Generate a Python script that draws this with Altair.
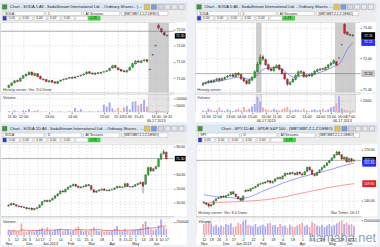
import json
import altair as alt
import pandas as pd

# ---------------- data ----------------
P1_TITLE = "Chart - SODA.1:All - SodaStream International Ltd. - Ordinary Shares - (MBT.MBT.Z,2,Z.DEMO)"
P1_O = [70.72, 70.78, 70.86, 70.93, 70.91, 71.00, 71.07, 71.11, 71.19, 71.09,
        71.14, 71.06, 70.97, 70.96, 70.89, 70.93, 70.89, 70.84, 70.91, 70.95,
        70.97, 71.00, 71.03, 71.01, 71.05, 71.07, 71.10, 71.13, 71.20, 71.16,
        71.12, 71.17, 71.15, 71.19, 71.21, 71.24, 71.31, 71.39, 71.32, 71.27,
        71.23, 71.19, 71.25, 71.34, 71.44, 71.53, 71.48, 71.54, 71.57,
        71.27, 71.72, 72.00, 72.62, 72.52, 72.40, 72.32]
P1_C = [70.78, 70.85, 70.92, 70.90, 71.00, 71.08, 71.12, 71.18, 71.10, 71.15,
        71.05, 70.98, 70.95, 70.90, 70.92, 70.88, 70.85, 70.90, 70.94, 70.97,
        70.99, 71.02, 71.00, 71.04, 71.06, 71.09, 71.13, 71.19, 71.15, 71.13,
        71.16, 71.15, 71.18, 71.20, 71.23, 71.30, 71.38, 71.33, 71.26, 71.22,
        71.20, 71.24, 71.33, 71.45, 71.52, 71.49, 71.53, 71.56, 71.52,
        71.27, 71.72, 72.00, 72.55, 72.42, 72.33, 72.30]
P1_H = [70.81, 70.88, 70.95, 70.96, 71.03, 71.10, 71.15, 71.22, 71.21, 71.17,
        71.16, 71.08, 71.00, 70.98, 70.95, 70.95, 70.91, 70.92, 70.96, 70.99,
        71.01, 71.04, 71.05, 71.06, 71.08, 71.11, 71.15, 71.22, 71.22, 71.18,
        71.18, 71.19, 71.20, 71.22, 71.25, 71.33, 71.41, 71.42, 71.34, 71.29,
        71.25, 71.27, 71.36, 71.48, 71.56, 71.56, 71.56, 71.60, 71.59,
        71.29, 71.74, 72.02, 72.68, 72.55, 72.43, 72.34]
P1_L = [70.69, 70.76, 70.84, 70.87, 70.89, 70.98, 71.05, 71.09, 71.08, 71.07,
        71.03, 70.96, 70.93, 70.88, 70.87, 70.86, 70.83, 70.82, 70.89, 70.93,
        70.95, 70.98, 70.98, 70.99, 71.03, 71.05, 71.08, 71.11, 71.13, 71.11,
        71.10, 71.13, 71.13, 71.17, 71.19, 71.22, 71.29, 71.30, 71.24, 71.20,
        71.18, 71.17, 71.23, 71.31, 71.42, 71.46, 71.46, 71.51, 71.49,
        71.25, 71.70, 71.98, 72.50, 72.40, 72.30, 72.28]
P1_V = [8, 5, 12, 6, 4, 14, 9, 22, 7, 10,
        16, 5, 4, 6, 3, 8, 4, 5, 6, 3,
        4, 7, 5, 30, 9, 24, 6, 5, 8, 7,
        4, 10, 6, 55, 40, 70, 28, 12, 30, 8,
        35, 45, 20, 75, 80, 50, 62, 90, 40,
        6, 4, 9, 14, 8, 6, 4]
P1_XTICKS = [1, 5, 14, 22, 33, 38, 41, 45, 51, 55]
P1_XLABELS = [["11:30", ""], ["12:00", ""], ["13:00", ""], ["14:00", ""], ["15:00", ""],
              ["15:15", ""], ["15:30", ""], ["15:45", ""], ["16:00", "06-17 2013"], ["16:45", ""]]
P1_YTICKS = [71.0, 71.5, 72.0, 72.5]

P2_TITLE = "Chart - SODA.5:All - SodaStream International Ltd. - Ordinary Shares - (MBT.MBT.Z,2,Z.DEMO)"
P2_O = [71.16, 71.20, 71.23, 71.29, 71.26, 71.30, 71.36, 71.31, 71.35, 71.41,
        71.44, 71.48, 71.42, 71.53, 71.49, 71.36, 71.29, 71.20, 71.31, 71.40,
        71.58, 71.83, 72.06, 71.97, 71.81, 71.67, 71.61, 71.71, 71.79, 71.67,
        71.53, 71.34, 71.17, 71.25, 71.33, 71.45, 71.59, 71.57, 71.41, 71.48,
        71.44, 71.51, 71.59, 71.64, 71.68, 71.65, 71.71, 71.79, 71.85,
        71.90, 72.02, 72.45, 73.10, 72.85, 72.78, 72.76]
P2_C = [71.20, 71.24, 71.28, 71.25, 71.31, 71.35, 71.30, 71.36, 71.40, 71.44,
        71.47, 71.43, 71.52, 71.48, 71.35, 71.28, 71.20, 71.32, 71.40, 71.58,
        71.82, 72.05, 71.98, 71.80, 71.66, 71.62, 71.72, 71.78, 71.66, 71.52,
        71.35, 71.18, 71.24, 71.34, 71.46, 71.58, 71.56, 71.42, 71.47, 71.45,
        71.52, 71.60, 71.65, 71.67, 71.66, 71.72, 71.80, 71.86, 71.94,
        71.80, 72.02, 72.45, 72.82, 72.78, 72.75, 72.74]
P2_H = [71.24, 71.27, 71.32, 71.33, 71.34, 71.39, 71.39, 71.40, 71.43, 71.48,
        71.51, 71.52, 71.56, 71.57, 71.52, 71.40, 71.33, 71.36, 71.44, 71.63,
        71.90, 72.14, 72.12, 72.01, 71.85, 71.71, 71.76, 71.82, 71.83, 71.70,
        71.56, 71.37, 71.28, 71.38, 71.50, 71.62, 71.63, 71.60, 71.50, 71.51,
        71.55, 71.63, 71.68, 71.70, 71.71, 71.75, 71.83, 71.90, 71.98,
        71.93, 72.04, 72.47, 73.14, 72.88, 72.80, 72.78]
P2_L = [71.12, 71.17, 71.20, 71.21, 71.23, 71.27, 71.26, 71.28, 71.32, 71.38,
        71.41, 71.40, 71.39, 71.45, 71.31, 71.24, 71.16, 71.17, 71.28, 71.37,
        71.55, 71.79, 71.93, 71.76, 71.62, 71.58, 71.58, 71.68, 71.62, 71.48,
        71.31, 71.12, 71.14, 71.22, 71.30, 71.42, 71.52, 71.38, 71.38, 71.42,
        71.41, 71.48, 71.56, 71.61, 71.63, 71.62, 71.68, 71.76, 71.82,
        71.77, 72.00, 72.43, 72.78, 72.75, 72.72, 72.71]
P2_MA = [71.22, 71.22, 71.23, 71.24, 71.25, 71.27, 71.28, 71.30, 71.32, 71.34,
         71.36, 71.38, 71.40, 71.41, 71.40, 71.38, 71.35, 71.34, 71.35, 71.40,
         71.48, 71.57, 71.65, 71.69, 71.70, 71.70, 71.71, 71.72, 71.70, 71.66,
         71.60, 71.52, 71.45, 71.41, 71.40, 71.42, 71.45, 71.46, 71.47, 71.47,
         71.48, 71.50, 71.53, 71.56, 71.59, 71.62, 71.66, 71.70, 71.75, 71.77,
         71.82, 71.95, 72.12, 72.30, 72.42, 72.52]
P2_V = [3, 2, 6, 4, 2, 3, 8, 3, 2, 5,
        3, 2, 4, 6, 3, 9, 4, 6, 10, 14,
        26, 18, 8, 5, 4, 3, 6, 4, 3, 5,
        7, 9, 4, 3, 5, 4, 3, 6, 3, 2,
        4, 5, 3, 4, 6, 3, 5, 8, 10, 15,
        27, 6, 4, 3, 2, 3]
P2_XTICKS = [1, 5, 10, 14, 18, 23, 27, 32, 38, 43, 47, 51, 54]
P2_XLABELS = [["11:30", ""], ["12:00", ""], ["13:00", ""], ["14:00", ""], ["15:00", ""],
              ["10:00", "06-17 2013"], ["11:00", ""], ["12:00", ""], ["13:00", ""],
              ["14:00", ""], ["15:00", ""], ["16:00", "06-17 2013"], ["17:00", ""]]
P2_YTICKS = [71.0, 72.0, 73.0]

P3_TITLE = "Chart - SODA.1D:All - SodaStream International Ltd. - Ordinary Shares - (MBT.MBT.Z,2,Z.DEMO)"
P3_O = [37.5, 38.0, 39.1, 38.3, 37.4, 37.1, 36.7, 36.3, 35.3, 35.9,
        34.7, 35.6, 36.3, 38.1, 40.6, 41.4, 40.5, 41.6, 42.9, 44.7,
        46.1, 48.1, 47.4, 49.4, 50.9, 51.9, 52.9, 51.6, 50.5, 51.1,
        51.3, 52.6, 51.9, 48.9, 47.2, 48.2, 48.7, 49.6, 48.7, 48.3,
        49.0, 49.3, 50.3, 51.4, 50.6, 51.0, 53.4, 51.2, 50.9, 51.5,
        52.7, 53.3, 54.3, 53.0, 59.6, 64.9, 62.5, 64.1, 65.7, 70.9, 74.8, 75.8]
P3_C = [38.0, 39.2, 38.4, 37.3, 37.0, 36.6, 36.2, 35.4, 35.8, 34.8,
        35.5, 36.2, 38.0, 40.5, 41.3, 40.6, 41.5, 42.8, 44.6, 46.0,
        48.0, 47.5, 49.3, 50.8, 51.8, 52.8, 51.5, 50.6, 51.0, 51.4,
        52.5, 52.0, 49.0, 47.3, 48.1, 48.8, 49.5, 48.6, 48.4, 48.9,
        49.4, 50.2, 51.3, 50.7, 50.9, 53.3, 51.3, 51.0, 51.4, 52.6,
        53.4, 54.2, 51.5, 59.5, 64.8, 62.6, 64.0, 65.6, 70.8, 74.6, 76.2, 71.3]
P3_H = [38.6, 39.7, 39.5, 38.7, 37.9, 37.6, 37.2, 36.7, 36.3, 36.2,
        35.9, 36.8, 38.5, 41.0, 42.0, 41.9, 42.0, 43.3, 45.2, 46.6,
        48.7, 48.9, 49.8, 51.3, 52.4, 53.5, 53.3, 52.0, 51.6, 52.0,
        53.0, 53.1, 52.2, 49.4, 48.6, 49.3, 50.0, 50.0, 49.1, 49.4,
        49.9, 50.7, 51.9, 51.8, 51.4, 53.9, 53.8, 51.7, 51.9, 53.1,
        53.9, 54.8, 54.7, 60.2, 65.6, 65.5, 64.8, 66.4, 71.5, 75.5, 77.8, 76.3]
P3_L = [37.0, 37.7, 38.0, 36.9, 36.5, 36.1, 35.8, 34.9, 35.0, 34.3,
        34.2, 35.2, 36.0, 37.8, 40.1, 40.0, 40.1, 41.2, 42.5, 44.2,
        45.8, 47.0, 47.0, 49.0, 50.4, 51.5, 51.0, 50.1, 50.0, 50.6,
        51.0, 51.5, 48.5, 46.8, 46.9, 47.8, 48.3, 48.1, 47.9, 47.9,
        48.6, 48.9, 49.9, 50.2, 50.2, 50.7, 50.9, 50.5, 50.5, 51.1,
        52.2, 52.9, 46.5, 52.6, 59.0, 61.8, 61.9, 63.6, 65.2, 70.3, 74.0, 70.6]
P3_V = [900, 700, 800, 600, 650, 2200, 700, 600, 800, 700,
        650, 900, 1100, 1300, 800, 1500, 900, 700, 1000, 1100,
        1200, 800, 900, 1000, 700, 800, 1300, 1600, 900, 700,
        800, 700, 1100, 1500, 900, 700, 800, 600, 700, 650,
        800, 1200, 1700, 900, 700, 1100, 800, 700, 900, 1000,
        1100, 1300, 2100, 2600, 1600, 1200, 900, 1100, 1800, 3000, 1500, 1200]
P3_XTICKS = [0, 3, 6, 8, 11, 13, 16, 20, 24, 27, 30, 32, 36, 40, 43, 45, 47, 49, 52, 55, 57, 59, 61]
P3_XLABELS = [["5", "Nov"], ["12", ""], ["26", ""], ["3", "Dec"], ["10", ""], ["17", ""],
              ["2", "Jan 2013"], ["14", ""], ["1", "Feb"], ["11", ""], ["25", ""], ["4", "Mar"],
              ["18", ""], ["1", "Apr"], ["8", ""], ["15", ""], ["22", ""], ["1", "May"],
              ["13", ""], ["28", ""], ["3", "Jun"], ["10", ""], ["17", ""]]
P3_YTICKS = [40, 50, 60, 80]

P4_TITLE = "Chart - SPY.1D:All - SPDR S&P 500 - (MBT.MBT.Z,2,Z.DEMO)"
P4_O = [138.9, 138.5, 137.9, 136.8, 137.6, 139.8, 141.2, 141.6, 142.5, 142.0,
        142.9, 143.5, 145.1, 143.7, 142.2, 141.2, 140.1, 145.2, 146.1, 145.5,
        147.0, 147.5, 148.3, 149.5, 149.9, 150.2, 150.9, 151.5, 150.4, 151.2,
        152.7, 153.5, 152.7, 154.3, 155.8, 155.3, 156.3, 155.9, 155.1, 156.6,
        155.6, 155.1, 157.0, 159.5, 157.8, 155.3, 154.8, 156.4, 157.9, 159.3,
        160.5, 162.1, 163.4, 164.9, 166.8, 168.4, 166.8, 164.2, 165.3, 162.7, 164.5, 163.1]
P4_C = [138.6, 137.8, 136.7, 137.5, 139.6, 141.0, 141.5, 142.4, 142.1, 142.8,
        143.4, 145.0, 143.8, 142.3, 141.0, 140.0, 142.5, 146.0, 145.6, 146.9,
        147.4, 148.2, 149.4, 149.8, 150.3, 150.8, 151.6, 150.5, 151.1, 152.6,
        153.4, 152.8, 154.2, 155.9, 155.4, 156.2, 155.8, 155.2, 156.5, 155.7,
        155.0, 156.8, 159.4, 157.9, 155.4, 154.6, 156.3, 157.8, 159.2, 160.4,
        162.0, 163.3, 164.8, 166.7, 168.3, 166.9, 164.3, 165.2, 162.6, 164.4, 163.0, 163.5]
P4_H = [139.4, 139.0, 138.2, 138.0, 140.1, 141.4, 142.1, 142.9, 143.0, 143.3,
        143.9, 145.4, 145.5, 144.1, 142.6, 141.6, 142.9, 146.4, 146.5, 147.3,
        147.8, 148.6, 149.8, 150.3, 150.8, 151.3, 152.1, 151.9, 151.6, 153.0,
        153.9, 153.9, 154.6, 156.3, 156.3, 156.7, 156.8, 156.3, 156.9, 157.0,
        156.1, 157.3, 159.9, 159.9, 158.2, 155.8, 156.8, 158.2, 159.7, 160.9,
        162.5, 163.8, 165.3, 167.2, 169.1, 169.0, 167.2, 165.8, 165.7, 164.9, 165.0, 164.2]
P4_L = [138.0, 137.2, 135.8, 136.2, 137.3, 139.4, 140.8, 141.1, 141.6, 141.6,
        142.4, 143.2, 143.4, 141.9, 140.5, 139.5, 139.8, 144.8, 145.1, 145.2,
        146.6, 147.1, 148.0, 149.1, 149.4, 149.8, 150.5, 149.8, 149.9, 150.9,
        152.3, 152.2, 152.3, 154.0, 154.9, 154.9, 155.3, 154.6, 154.7, 155.2,
        154.4, 154.8, 156.6, 157.4, 154.8, 153.9, 154.3, 156.0, 157.5, 158.9,
        160.1, 161.7, 163.0, 164.5, 166.3, 166.4, 163.7, 163.8, 162.0, 162.2, 162.4, 162.6]
P4_MA50 = [143.3, 143.1, 142.9, 142.6, 142.4, 142.2, 142.1, 142.0, 141.9, 141.8,
           141.7, 141.6, 141.5, 141.3, 141.1, 141.0, 141.1, 141.4, 141.8, 142.3,
           142.9, 143.5, 144.1, 144.8, 145.4, 146.0, 146.6, 147.2, 147.7, 148.3,
           148.9, 149.5, 150.1, 150.6, 151.1, 151.6, 152.1, 152.5, 153.0, 153.4,
           153.8, 154.2, 154.6, 155.0, 155.4, 155.7, 156.0, 156.3, 156.7, 157.1,
           157.5, 157.9, 158.3, 158.7, 159.2, 159.6, 160.0, 160.4, 160.8, 161.2, 161.5, 161.8]
P4_MA200 = [138.4, 138.5, 138.5, 138.6, 138.6, 138.7, 138.8, 138.8, 138.9, 139.0,
            139.0, 139.1, 139.2, 139.2, 139.3, 139.4, 139.4, 139.5, 139.6, 139.7,
            139.8, 139.9, 140.0, 140.1, 140.3, 140.4, 140.6, 140.8, 141.0, 141.2,
            141.4, 141.7, 141.9, 142.2, 142.5, 142.8, 143.1, 143.4, 143.7, 144.0,
            144.3, 144.6, 144.9, 145.2, 145.5, 145.8, 146.1, 146.4, 146.7, 147.0,
            147.3, 147.6, 147.8, 148.1, 148.3, 148.6, 148.8, 149.0, 149.2, 149.4, 149.6, 149.8]
P4_V = [150, 170, 190, 160, 120, 140, 110, 130, 120, 150,
        140, 160, 110, 120, 170, 150, 190, 210, 140, 130,
        120, 150, 110, 130, 140, 120, 160, 170, 130, 140,
        110, 150, 120, 130, 100, 140, 120, 110, 130, 150,
        170, 120, 140, 110, 180, 160, 130, 120, 140, 110,
        130, 150, 120, 140, 160, 180, 200, 150, 170, 140, 150, 120]
P4_XTICKS = [0, 3, 6, 9, 12, 16, 20, 24, 28, 32, 36, 40, 44, 48, 52, 56, 59, 61]
P4_XLABELS = [["12", "Nov"], ["19", ""], ["26", ""], ["3", "Dec"], ["17", ""], ["2", "Jan 2013"],
              ["22", ""], ["4", "Feb"], ["19", ""], ["4", "Mar"], ["18", ""], ["1", "Apr"],
              ["15", ""], ["29", ""], ["13", "May"], ["28", ""], ["10", "Jun"], ["17", ""]]
P4_YTICKS = [140, 170]

# ---------------- style ----------------
FONT = "Liberation Sans"
UP, DN, WICK = "#1fbf1f", "#dd2020", "#1e1e1e"
VUP, VDN = "#a8a8f4", "#f4a8a8"
GRID = dict(grid=True, gridDash=[1, 2], gridColor="#b8b8b8", gridWidth=0.5)
BOX = "M-1,-0.5L1,-0.5L1,0.5L-1,0.5Z"


def header(W, title, sym, interval, center):
    rects = [dict(x0=0, x1=W, y0=0, y1=7.5, f="#dce7f4", s="#c9d7ea"),
             dict(x0=1.5, x1=6, y0=1.5, y1=6, f="#4c8f3c", s="#2f6b25")]
    for k, col in enumerate(["#e9c44a", "#7c9bd8", "#cfd8e4", "#e8e8e8", "#e8e8e8", "#e8e8e8"]):
        x0 = W - 43 + k * 7
        rects.append(dict(x0=x0, x1=x0 + 5.5, y0=1.2, y1=6.3, f=col, s="#8c8c8c"))
    rects.append(dict(x0=0, x1=W, y0=7.5, y1=18, f="#ececec", s="#ececec"))
    for a, b in [(2, 44), (46, 82), (84, 121), (123, min(170, W - 18))]:
        rects.append(dict(x0=a, x1=b, y0=8.2, y1=12.6, f="white", s="#a3a3a3"))
    rects.append(dict(x0=2, x1=5.5, y0=13.3, y1=17.3, f="#2a3fd0", s="#2a3fd0"))
    for a in [6, 20, 34, 48, 62, 76]:
        rects.append(dict(x0=a, x1=a + 12.5, y0=13.3, y1=17.3, f="white", s="#a3a3a3"))
    rects.append(dict(x0=89, x1=101, y0=13.3, y1=17.3, f="#33e033", s="#22aa22"))
    texts = [dict(x=4, y=10.5, t=sym), dict(x=48, y=10.5, t=interval),
             dict(x=86, y=10.5, t="All Sessions"), dict(x=125, y=10.5, t="(MBT.MBT.Z,2,Z.DEMO)"),
             dict(x=8, y=15.4, t="0.00"), dict(x=22, y=15.4, t="0.00"), dict(x=36, y=15.4, t="0.00"),
             dict(x=50, y=15.4, t="0.00"), dict(x=64, y=15.4, t="0.00"), dict(x=91, y=15.4, t="1.73")]
    r = alt.Chart(pd.DataFrame(rects)).mark_rect(strokeWidth=0.4).encode(
        x=alt.X("x0:Q", scale=None, axis=None), x2="x1:Q",
        y=alt.Y("y0:Q", scale=None, axis=None), y2="y1:Q",
        color=alt.Color("f:N", scale=None), stroke=alt.Stroke("s:N", scale=None))
    t = alt.Chart(pd.DataFrame(texts)).mark_text(font=FONT, fontSize=3.3, align="left",
                                                 baseline="middle", color="#222").encode(
        x=alt.X("x:Q", scale=None, axis=None), y=alt.Y("y:Q", scale=None, axis=None), text="t:N")
    tt = alt.Chart(pd.DataFrame({"t": [title]})).mark_text(
        font=FONT, fontSize=4.1, align="center" if center else "left", baseline="middle",
        color="#1a1a1a", limit=W - 52).encode(
        x=alt.value(W / 2 - 10 if center else 9), y=alt.value(4), text="t:N")
    return alt.layer(r, t, tt).properties(width=W, height=18,
                                          view=alt.ViewBackground(stroke="transparent"))


def price_chart(df, W, H, AX, ydom, yticks, xdom, xticks, bands, refs, boxes, lines, notes, bw):
    xs = alt.Scale(domain=xdom, nice=False, zero=False)
    ys = alt.Scale(domain=ydom, nice=False, zero=False)
    xax = alt.Axis(values=xticks, labels=False, ticks=False, domain=False, title=None, zindex=1,
                   maxExtent=0, minExtent=0, **GRID)
    yax = alt.Axis(orient="right", values=yticks, format=".2f", labelFontSize=3.6, labelFont=FONT,
                   labelColor="#222", tickSize=1.2, tickColor="#777", labelPadding=1, domain=False,
                   title=None, minExtent=AX, maxExtent=AX, zindex=1, **GRID)

    def X(f):
        return alt.X(f, scale=xs, axis=xax)

    def Y(f):
        return alt.Y(f, scale=ys, axis=yax)

    one = pd.DataFrame({"k": [0]})
    layers = [alt.Chart(one).mark_rect(fill="white").encode(
        x=alt.value(0), x2=alt.value(W + AX), y=alt.value(0), y2=alt.value(H))]
    if bands:
        bdf = pd.DataFrame(bands, columns=["b0", "b1"])
        layers.append(alt.Chart(bdf).mark_rect(fill="#cdcdcd").encode(
            x=X("b0:Q"), x2="b1:Q", y=alt.value(0), y2=alt.value(H)))
    if refs:
        layers.append(alt.Chart(pd.DataFrame({"p": refs})).mark_rule(
            color="#7a7a7a", strokeWidth=0.6).encode(y=Y("p:Q")))
    for field, col in lines:
        layers.append(alt.Chart(df).mark_line(color=col, strokeWidth=0.8).encode(
            x=X("i:Q"), y=Y(field + ":Q")))
    layers.append(alt.Chart(df).mark_rule(color=WICK, strokeWidth=0.5).encode(
        x=X("i:Q"), y=Y("l:Q"), y2="h:Q"))
    layers.append(alt.Chart(df).mark_bar(size=bw, stroke=WICK, strokeWidth=0.3).encode(
        x=X("i:Q"), y=Y("o:Q"), y2="c:Q",
        color=alt.condition("datum.c >= datum.o", alt.value(UP), alt.value(DN))))
    if boxes:
        bx = pd.DataFrame(boxes, columns=["p", "f", "tc"])
        bx["lab"] = [f"{p:.2f}" for p in bx["p"]]
        layers.append(alt.Chart(bx).mark_point(shape=BOX, filled=True, size=(AX - 2) ** 2,
                                               opacity=1, strokeWidth=0).encode(
            x=alt.value(W + AX / 2), y=Y("p:Q"), color=alt.Color("f:N", scale=None)))
        layers.append(alt.Chart(bx).mark_text(font=FONT, fontSize=3.5, baseline="middle").encode(
            x=alt.value(W + AX / 2), y=Y("p:Q"), text="lab:N", color=alt.Color("tc:N", scale=None)))
    for txt, align in notes:
        layers.append(alt.Chart(one).mark_text(font=FONT, fontSize=3.9, align=align,
                                               baseline="bottom", color="#333").encode(
            x=alt.value(2 if align == "left" else W - 2), y=alt.value(H - 1), text=alt.value(txt)))
    return alt.layer(*layers).properties(
        width=W, height=H, view=alt.ViewBackground(fill="white", stroke="#9c9c9c", strokeWidth=0.6))


def volume_chart(df, W, H, AX, vmax, vticks, mult, xdom, xticks, xlabels, bands, bw, vma, watermark):
    xs = alt.Scale(domain=xdom, nice=False, zero=False)
    ys = alt.Scale(domain=[0, vmax], nice=False)
    expr = f"{json.dumps(xlabels)}[indexof({json.dumps(xticks)}, datum.value)]"
    xax = alt.Axis(values=xticks, labelExpr=expr, labelFontSize=3.8, labelFont=FONT,
                   labelLineHeight=4.4, labelPadding=1, tickSize=1.5, tickColor="#777",
                   labelColor="#222", domain=False, labelOverlap=False, labelFlush=False,
                   title=None, zindex=1, **GRID)
    yax = alt.Axis(orient="right", values=vticks, labelExpr=f"format(datum.value*{mult}, 'd')",
                   labelFontSize=3.2, labelFont=FONT, labelColor="#222", tickSize=1.2,
                   tickColor="#777", labelPadding=0.8, domain=False, title=None,
                   minExtent=AX, maxExtent=AX, zindex=1, **GRID)

    def X(f):
        return alt.X(f, scale=xs, axis=xax)

    def Y(f):
        return alt.Y(f, scale=ys, axis=yax)

    one = pd.DataFrame({"k": [0]})
    layers = [alt.Chart(one).mark_rect(fill="white").encode(
        x=alt.value(0), x2=alt.value(W + AX), y=alt.value(0), y2=alt.value(H + 10))]
    if bands:
        bdf = pd.DataFrame(bands, columns=["b0", "b1"])
        layers.append(alt.Chart(bdf).mark_rect(fill="#e4e4e4", stroke="#b0b0b0", strokeWidth=0.4).encode(
            x=X("b0:Q"), x2="b1:Q", y=alt.value(0), y2=alt.value(H)))
    layers.append(alt.Chart(df).mark_bar(size=bw).encode(
        x=X("i:Q"), y=Y("v:Q"),
        color=alt.condition("datum.c >= datum.o", alt.value(VUP), alt.value(VDN))))
    if vma:
        layers.append(alt.Chart(df).transform_window(vma="mean(v)", frame=[-9, 0]).mark_line(
            color="#e04a4a", strokeWidth=0.7).encode(x=X("i:Q"), y=Y("vma:Q")))
    layers.append(alt.Chart(one).mark_text(font=FONT, fontSize=3.9, align="left",
                                           baseline="top", color="#333").encode(
        x=alt.value(2), y=alt.value(1.5), text=alt.value("Volume")))
    if watermark:
        layers.append(alt.Chart(one).mark_text(font=FONT, fontSize=13, align="right",
                                               baseline="bottom", color="#7f98b5", opacity=0.9).encode(
            x=alt.value(W + AX - 1), y=alt.value(H + 10), text=alt.value(watermark)))
    return alt.layer(*layers).properties(
        width=W, height=H, view=alt.ViewBackground(fill="white", stroke="#9c9c9c", strokeWidth=0.6))


def window(p):
    df = pd.DataFrame({"i": list(range(len(p["c"]))), "o": p["o"], "h": p["h"],
                       "l": p["l"], "c": p["c"], "v": p["v"]})
    for name, vals in p.get("extra", {}).items():
        df[name] = vals
    hd = header(p["W"] + p["AX"], p["title"], p["sym"], p["interval"], p["center"])
    pr = price_chart(df, p["W"], p["H"], p["AX"], p["ydom"], p["yticks"], p["xdom"], p["xticks"],
                     p["bands"], p["refs"], p["boxes"], p["lines"], p["notes"], p["bw"])
    vo = volume_chart(df, p["W"], p["VH"], p["AX"], p["vmax"], p["vticks"], p["mult"], p["xdom"],
                      p["xticks"], p["xlabels"], p["bands"], p["bw"], p["vma"], p.get("wm"))
    return alt.vconcat(hd, pr, vo, spacing=0)


w1 = window(dict(W=176, AX=13, H=71, VH=18, title=P1_TITLE, sym="SODA", interval="1", center=False,
                 o=P1_O, h=P1_H, l=P1_L, c=P1_C, v=P1_V, ydom=[70.56, 72.70], yticks=P1_YTICKS,
                 xdom=[-1.0, 55.6], xticks=P1_XTICKS, xlabels=P1_XLABELS, bands=[[48.5, 55.6]],
                 refs=[72.44], boxes=[[72.30, "#000000", "#ffffff"]], lines=[],
                 notes=[("History server: Ver. 9.0 Done", "left")], bw=2.0,
                 vmax=128, vticks=[50, 100], mult=1000, vma=False))
w2 = window(dict(W=168, AX=16, H=71, VH=18, title=P2_TITLE, sym="SODA", interval="5", center=False,
                 o=P2_O, h=P2_H, l=P2_L, c=P2_C, v=P2_V, extra={"ma": P2_MA},
                 ydom=[70.91, 73.15], yticks=P2_YTICKS, xdom=[-1, 56], xticks=P2_XTICKS,
                 xlabels=P2_XLABELS, bands=[[19.5, 21.5], [48.5, 56]], refs=[71.52],
                 boxes=[[72.74, "#000000", "#ffffff"], [72.52, "#2a2aff", "#ffffff"],
                        [71.52, "#c8c8c8", "#000000"]],
                 lines=[("ma", "#7878f0")], notes=[("History server", "left")], bw=1.9,
                 vmax=30, vticks=[20], mult=1000, vma=False))
w3 = window(dict(W=176, AX=13, H=73, VH=17, title=P3_TITLE, sym="SODA", interval="D", center=False,
                 o=P3_O, h=P3_H, l=P3_L, c=P3_C, v=P3_V, ydom=[30, 81.3], yticks=P3_YTICKS,
                 xdom=[-1, 62], xticks=P3_XTICKS, xlabels=P3_XLABELS, bands=[], refs=[71.3],
                 boxes=[[71.3, "#000000", "#ffffff"]], lines=[], notes=[], bw=1.8,
                 vmax=3200, vticks=[2500], mult=1000, vma=True))
w4 = window(dict(W=168, AX=16, H=73, VH=17, title=P4_TITLE, sym="SPY", interval="D", center=True,
                 o=P4_O, h=P4_H, l=P4_L, c=P4_C, v=P4_V,
                 extra={"ma50": P4_MA50, "ma200": P4_MA200},
                 ydom=[130.7, 172.7], yticks=P4_YTICKS, xdom=[-1, 62], xticks=P4_XTICKS,
                 xlabels=P4_XLABELS, bands=[], refs=[163.5],
                 boxes=[[163.5, "#000000", "#ffffff"], [161.8, "#2a2aff", "#ffffff"],
                        [149.8, "#e02020", "#ffffff"]],
                 lines=[("ma200", "#f08080"), ("ma50", "#8080f0")],
                 notes=[("History server: Ver. 9.0 Done", "left"), ("Bar Timer: 16:17", "right")],
                 bw=1.7, vmax=230, vticks=[200], mult=1000000, vma=False, wm="hamaha.net"))

chart = alt.vconcat(
    alt.hconcat(w1, w2, spacing=7),
    alt.hconcat(w3, w4, spacing=7),
    spacing=1,
).properties(padding=0, background="#eef2f7")

chart.save("out.html", embed_options={"renderer": "svg", "actions": False})
